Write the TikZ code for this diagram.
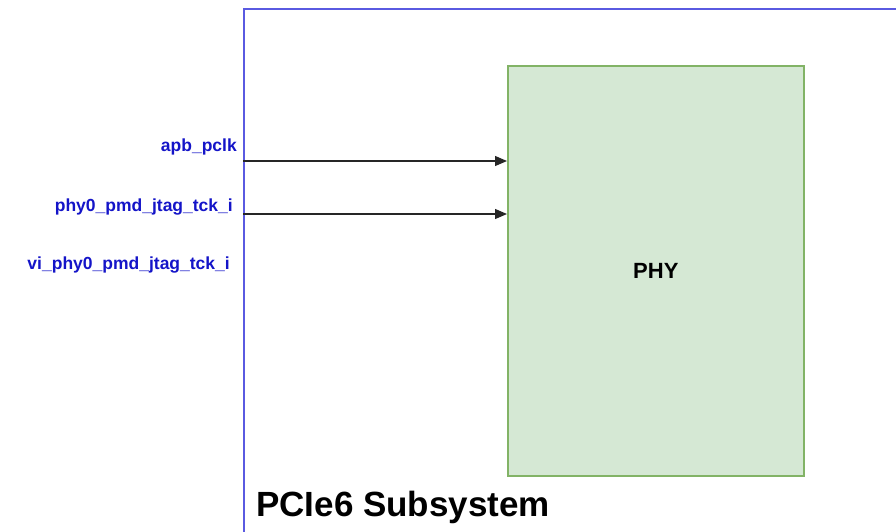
\documentclass[tikz,border=0pt]{standalone}
\usepackage{fontspec}
\setmainfont{Liberation Sans}
\usetikzlibrary{arrows.meta}
\definecolor{subsysblue}{RGB}{90,90,225}
\definecolor{sigblue}{RGB}{20,20,200}
\definecolor{phyfill}{HTML}{D5E8D4}
\definecolor{phyline}{HTML}{82B366}
\tikzset{
  subsys/.style={draw=subsysblue, line width=2pt, rectangle, inner sep=0pt},
  phybox/.style={draw=phyline, fill=phyfill, line width=1.6pt, rectangle, inner sep=0pt},
  phytext/.style={inner sep=0pt, font=\fontsize{22}{26}\selectfont\bfseries},
  siglabel/.style={anchor=east, text=sigblue, inner sep=0pt,
    font=\fontsize{17.5}{20}\selectfont\bfseries},
  sigarrow/.style={draw=black!85, line width=1.2pt, -{Triangle[length=12pt,width=10pt]}},
  title/.style={anchor=west, inner sep=0pt, font=\fontsize{35}{40}\selectfont\bfseries}
}
\begin{document}
\begin{tikzpicture}[x=1pt,y=-1pt]
  \useasboundingbox (0,0) rectangle (896,531);
  \clip (0,0) rectangle (896,531);
  % subsystem frame, running past the page edge
  \node[subsys, minimum width=700, minimum height=560, anchor=north west] (sub) at (243,8) {};
  % PHY block
  \node[phybox, minimum width=296, minimum height=410, anchor=north west] (phy) at (507,65) {};
  \node[phytext] (phylbl) at (phy.center) {PHY};
  % signal entry points on the frame
  \coordinate (in1) at (sub.west |- 0,161);
  \coordinate (in2) at (sub.west |- 0,214);
  % signal names
  \node[siglabel] (l1) at (237,147) {apb\_pclk};
  \node[siglabel] (l2) at (233,207) {phy0\_pmd\_jtag\_tck\_i};
  \node[siglabel] (l3) at (230,265) {vi\_phy0\_pmd\_jtag\_tck\_i};
  % connectors into PHY
  \draw[sigarrow] (in1) -- (phy.west |- in1);
  \draw[sigarrow] (in2) -- (phy.west |- in2);
  % subsystem title
  \node[title] (ttl) at (256,507) {PCIe6 Subsystem};
\end{tikzpicture}
\end{document}
